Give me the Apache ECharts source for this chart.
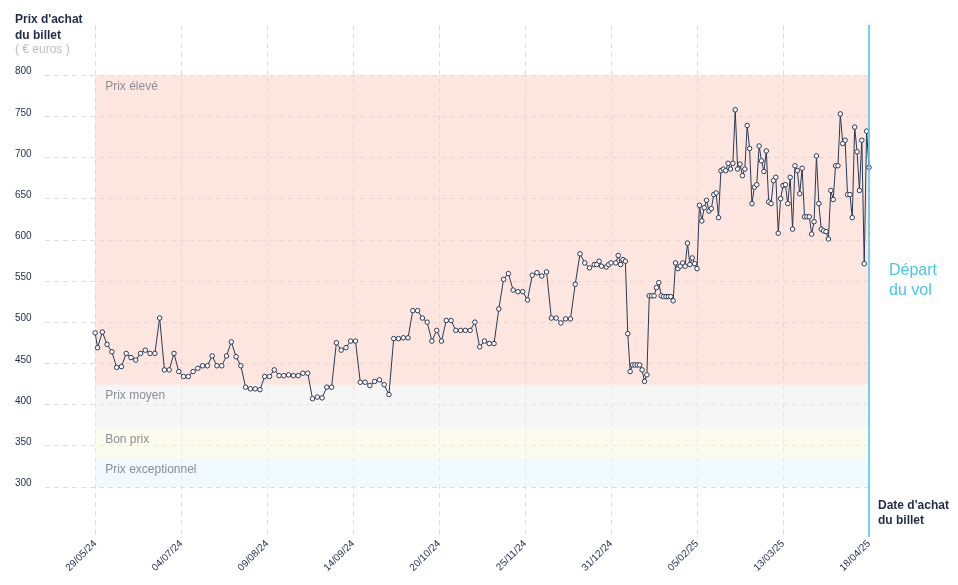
<!DOCTYPE html>
<html><head><meta charset="utf-8">
<script src="https://cdn.jsdelivr.net/npm/echarts@6/dist/echarts.min.js"></script>
<style>html,body{margin:0;padding:0;background:#fff}#c{width:958px;height:585px}</style>
</head><body><div id="c"></div>
<script>
// ---------- data ----------
const dates = [
'2024-05-29','2024-05-30','2024-06-01','2024-06-03','2024-06-05','2024-06-07','2024-06-09','2024-06-11','2024-06-13','2024-06-15',
'2024-06-17','2024-06-19','2024-06-21','2024-06-23','2024-06-25','2024-06-27','2024-06-29','2024-07-01','2024-07-03','2024-07-05',
'2024-07-07','2024-07-09','2024-07-11','2024-07-13','2024-07-15','2024-07-17','2024-07-19','2024-07-21','2024-07-23','2024-07-25',
'2024-07-27','2024-07-29','2024-07-31','2024-08-02','2024-08-04','2024-08-06','2024-08-08','2024-08-10','2024-08-12','2024-08-14',
'2024-08-16','2024-08-18','2024-08-20','2024-08-22','2024-08-24','2024-08-26','2024-08-28','2024-08-30','2024-09-01','2024-09-03',
'2024-09-05','2024-09-07','2024-09-09','2024-09-11','2024-09-13','2024-09-15','2024-09-17','2024-09-19','2024-09-21','2024-09-23',
'2024-09-25','2024-09-27','2024-09-29','2024-10-01','2024-10-03','2024-10-05','2024-10-07','2024-10-09','2024-10-11','2024-10-13',
'2024-10-15','2024-10-17','2024-10-19','2024-10-21','2024-10-23','2024-10-25','2024-10-27','2024-10-29','2024-10-31','2024-11-02',
'2024-11-04','2024-11-06','2024-11-08','2024-11-10','2024-11-12','2024-11-14','2024-11-16','2024-11-18','2024-11-20','2024-11-22',
'2024-11-24','2024-11-26','2024-11-28','2024-11-30','2024-12-02','2024-12-04','2024-12-06','2024-12-08','2024-12-10','2024-12-12',
'2024-12-14','2024-12-16','2024-12-18','2024-12-20','2024-12-22','2024-12-24','2024-12-25','2024-12-26','2024-12-27','2024-12-29',
'2024-12-30','2024-12-31','2025-01-02','2025-01-03','2025-01-04','2025-01-05','2025-01-06','2025-01-07','2025-01-08','2025-01-09',
'2025-01-10','2025-01-11','2025-01-12','2025-01-13','2025-01-14','2025-01-15','2025-01-16','2025-01-17','2025-01-18','2025-01-19',
'2025-01-20','2025-01-21','2025-01-22','2025-01-23','2025-01-24','2025-01-25','2025-01-26','2025-01-27','2025-01-28','2025-01-29',
'2025-01-30','2025-01-31','2025-02-01','2025-02-02','2025-02-03','2025-02-04','2025-02-05','2025-02-06','2025-02-07','2025-02-08',
'2025-02-09','2025-02-10','2025-02-11','2025-02-12','2025-02-13','2025-02-14','2025-02-15','2025-02-16','2025-02-17','2025-02-18',
'2025-02-19','2025-02-20','2025-02-21','2025-02-22','2025-02-23','2025-02-24','2025-02-25','2025-02-26','2025-02-27','2025-02-28',
'2025-03-01','2025-03-02','2025-03-03','2025-03-04','2025-03-05','2025-03-06','2025-03-07','2025-03-08','2025-03-09','2025-03-10',
'2025-03-11','2025-03-12','2025-03-13','2025-03-14','2025-03-15','2025-03-16','2025-03-17','2025-03-18','2025-03-19','2025-03-20',
'2025-03-21','2025-03-22','2025-03-23','2025-03-24','2025-03-25','2025-03-26','2025-03-27','2025-03-28','2025-03-29','2025-03-30',
'2025-03-31','2025-04-01','2025-04-02','2025-04-03','2025-04-04','2025-04-05','2025-04-06','2025-04-07','2025-04-08','2025-04-09',
'2025-04-10','2025-04-11','2025-04-12','2025-04-13','2025-04-14','2025-04-15','2025-04-16','2025-04-17','2025-04-18'
];
const prices = [
487,469,488,473,464,445,446,462,457,454,
462,466,462,462,505,442,442,462,440,434,
434,440,444,447,447,459,447,447,459,476,
458,447,421,419,419,418,434,434,442,435,
435,436,435,435,438,438,407,409,408,421,
421,475,466,469,477,477,427,427,423,428,
430,424,412,480,480,481,481,514,514,505,
500,477,490,477,502,502,490,490,490,490,
500,470,477,474,474,516,552,559,539,537,
537,527,557,560,556,561,505,505,499,504,
504,546,583,572,566,570,570,574,568,567,
570,572,572,581,570,576,574,486,440,448,
448,448,448,442,428,436,532,532,532,542,
548,532,531,531,531,531,526,572,565,568,
572,568,596,570,578,571,565,642,623,639,
648,635,638,655,657,627,684,686,684,693,
686,693,758,686,692,678,686,739,711,644,
664,667,714,696,683,708,646,644,672,676,
608,650,666,667,644,676,613,690,684,656,
687,628,628,628,607,622,702,644,613,611,
610,601,660,649,690,690,753,717,721,655,
655,627,737,707,660,721,571,732,688
];
const tickDates = ['2024-05-29','2024-07-04','2024-08-09','2024-09-14','2024-10-20','2024-11-25','2024-12-31','2025-02-05','2025-03-13','2025-04-18'];
const yTicks = [300,350,400,450,500,550,600,650,700,750,800];
const bandNames = ['Prix élevé','Prix moyen','Bon prix','Prix exceptionnel'];
const bandLimits = [800,424,371,334,300];
const departureDate = '2025-04-18';
const departureLabel = 'Départ\ndu vol';
const departureLabelPrice = 551;
const axisStart = '2024-05-08';

// ---------- styles ----------
const FONT = "'Liberation Sans', Arial, Helvetica, sans-serif";
const bandColors = ['rgba(251,205,192,0.5)','rgba(238,238,238,0.5)','rgba(249,249,222,0.5)','rgba(228,246,253,0.5)'];
const NAVY = '#1f2b47';
const LINE = '#2b3955';
const CYAN = '#45c8ea';

function ts(s){ const p = s.split('-'); return Date.UTC(+p[0], +p[1]-1, +p[2]); }
function pad(n){ return (n<10?'0':'')+n; }
function fmt(v){ const d = new Date(v); return pad(d.getUTCDate())+'/'+pad(d.getUTCMonth()+1)+'/'+String(d.getUTCFullYear()).slice(2); }

const tickVals = tickDates.map(ts);
const chart = echarts.init(document.getElementById('c'), null, {renderer:'canvas'});
chart.setOption({
  animation:false,
  backgroundColor:'#fff',
  textStyle:{fontFamily:FONT},
  title:{
    text:"Prix d'achat\ndu billet", subtext:'( € euros )',
    left:15, top:12, itemGap:0, padding:0,
    textStyle:{fontSize:12, fontWeight:'bold', lineHeight:16, color:NAVY, fontFamily:FONT},
    subtextStyle:{fontSize:12, lineHeight:12, color:'#bdbdbd', fontFamily:FONT}
  },
  grid:{left:45, right:89, top:25, bottom:48, containLabel:false},
  xAxis:{
    type:'value', min:ts(axisStart), max:ts(departureDate),
    axisLine:{show:false},
    axisTick:{show:false, customValues:tickVals},
    axisLabel:{customValues:tickVals, rotate:45, formatter:fmt, fontSize:10, color:NAVY, margin:5, fontFamily:FONT},
    splitLine:{show:true, lineStyle:{type:[5,4], color:'#dedede', width:1}},
    name:"Date d'achat\ndu billet", nameLocation:'end', nameGap:9,
    nameTextStyle:{align:'left', verticalAlign:'bottom', fontSize:12, fontWeight:'bold', lineHeight:15, color:NAVY, padding:[0,0,9,0], fontFamily:FONT}
  },
  yAxis:{
    type:'value', min:239, max:861,
    axisLine:{show:false},
    axisTick:{show:false, customValues:yTicks},
    axisLabel:{customValues:yTicks, align:'left', verticalAlign:'bottom', lineHeight:7, margin:30, fontSize:10, color:NAVY, fontFamily:FONT},
    splitLine:{show:true, lineStyle:{type:[5,4], color:'#dedede', width:1}}
  },
  series:[{
    type:'line',
    data:dates.map((d,i)=>[ts(d), prices[i]]),
    symbol:'circle', symbolSize:4.5, showAllSymbol:true,
    lineStyle:{color:LINE, width:1},
    itemStyle:{color:'#fff', borderColor:LINE, borderWidth:1},
    emphasis:{disabled:true},
    markArea:{
      silent:true,
      label:{position:[10,5], color:'#8a8e97', fontSize:12, fontFamily:FONT},
      data:bandNames.map((n,i)=>[
        {name:n, xAxis:ts(dates[0]), yAxis:bandLimits[i+1], itemStyle:{color:bandColors[i]}},
        {xAxis:ts(departureDate), yAxis:bandLimits[i]}
      ])
    },
    markLine:{
      silent:true, symbol:'none', animation:false,
      lineStyle:{color:CYAN, type:'solid', width:1.5},
      label:{show:false},
      data:[{xAxis:ts(departureDate)}]
    },
    markPoint:{
      silent:true, symbol:'circle', symbolSize:0,
      label:{show:true, position:'right', distance:20, formatter:departureLabel, color:CYAN, fontSize:16, lineHeight:20, fontFamily:FONT},
      data:[{coord:[ts(departureDate), departureLabelPrice]}]
    }
  }]
});
</script>
</body></html>
